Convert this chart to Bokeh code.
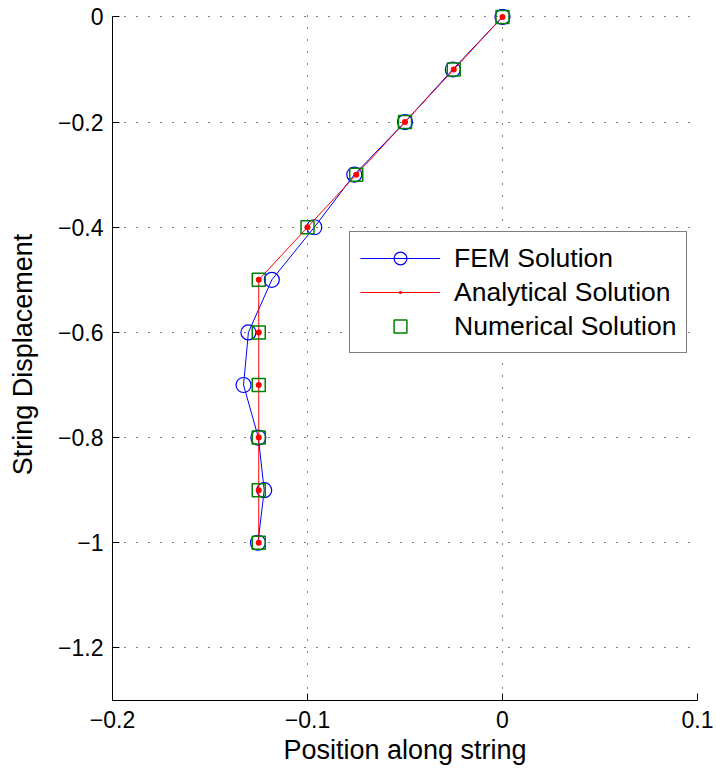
from bokeh.plotting import figure
from bokeh.models import Range1d, FixedTicker, Legend, LegendItem
from bokeh.embed import file_html
from bokeh.resources import INLINE

# Data
disp = [0.0, -0.1, -0.2, -0.3, -0.4, -0.5, -0.6, -0.7, -0.8, -0.9, -1.0]
fem_pos = [0.0, -0.0255, -0.05, -0.076, -0.0965, -0.1183, -0.1303, -0.1328, -0.1252, -0.1222, -0.1254]
ana_pos = [0.0, -0.025, -0.05, -0.075, -0.1, -0.125, -0.125, -0.125, -0.125, -0.125, -0.125]
num_pos = [0.0, -0.025, -0.05, -0.075, -0.1, -0.125, -0.125, -0.125, -0.125, -0.125, -0.125]

x_ticks = [-0.2, -0.1, 0.0, 0.1]
x_tick_labels = ["\u22120.2", "\u22120.1", "0", "0.1"]
y_ticks = [0.0, -0.2, -0.4, -0.6, -0.8, -1.0, -1.2]
y_tick_labels = ["0", "\u22120.2", "\u22120.4", "\u22120.6", "\u22120.8", "\u22121", "\u22121.2"]

FONT = "Liberation Sans"
Y_MIN, Y_MAX = -1.3, 0.0
X_MIN, X_MAX = -0.2, 0.1

# small headroom above y=0 so the markers at the origin are not clipped
p = figure(width=716, height=776, output_backend="svg", toolbar_location=None,
           x_range=Range1d(X_MIN, X_MAX), y_range=Range1d(Y_MIN, 0.016),
           min_border_left=112, min_border_right=19, min_border_top=8, min_border_bottom=76)
p.outline_line_color = None
p.background_fill_color = "white"

for ax, ticks, labels in ((p.xaxis[0], x_ticks, x_tick_labels), (p.yaxis[0], y_ticks, y_tick_labels)):
    ax.ticker = FixedTicker(ticks=ticks)
    ax.major_label_overrides = {t: l for t, l in zip(ticks, labels)}
    ax.minor_tick_line_color = None
    ax.major_tick_in = 7
    ax.major_tick_out = 0
    ax.axis_line_color = "black"
    ax.axis_line_width = 1
    ax.major_tick_line_color = "black"
    ax.major_label_text_font = FONT
    ax.major_label_text_font_size = "23px"
    ax.major_label_text_color = "black"
    ax.axis_label_text_font = FONT
    ax.axis_label_text_font_size = "27px"
    ax.axis_label_text_font_style = "normal"
    ax.axis_label_text_color = "black"

p.yaxis.bounds = (Y_MIN, Y_MAX)
p.xaxis.axis_label = "Position along string"
p.yaxis.axis_label = "String Displacement"
p.xaxis.major_label_standoff = 10
p.xaxis.axis_label_standoff = 4
p.yaxis.major_label_standoff = 9
p.yaxis.axis_label_standoff = 17

p.xgrid.ticker = FixedTicker(ticks=x_ticks)
p.ygrid.ticker = FixedTicker(ticks=y_ticks)
p.xgrid.bounds = (Y_MIN, Y_MAX)
for g in (p.xgrid[0], p.ygrid[0]):
    g.grid_line_color = "black"
    g.grid_line_dash = "1 11"
    g.grid_line_width = 1
    g.grid_line_alpha = 1.0

fem_line = p.line(fem_pos, disp, line_color="#0000ff", line_width=1)
fem_mark = p.scatter(fem_pos, disp, marker="circle", size=15, fill_color=None,
                     line_color="#0000ff", line_width=1.2)
ana_line = p.line(ana_pos, disp, line_color="#ff0000", line_width=1)
ana_mark = p.scatter(ana_pos, disp, marker="dot", size=24, fill_color="#ff0000",
                     line_color="#ff0000")
num_mark = p.scatter(num_pos, disp, marker="square", size=13, fill_color=None,
                     line_color="#008000", line_width=1.5)

legend = Legend(items=[
    LegendItem(label="FEM Solution", renderers=[fem_line, fem_mark]),
    LegendItem(label="Analytical Solution", renderers=[ana_line, ana_mark]),
    LegendItem(label="Numerical Solution", renderers=[num_mark]),
], location=(237, 347))
legend.label_text_font = FONT
legend.label_text_font_size = "26.5px"
legend.label_text_color = "black"
legend.glyph_width = 80
legend.glyph_height = 32
legend.label_height = 32
legend.label_standoff = 14
legend.spacing = 2
legend.padding = 10
legend.margin = 0
legend.border_line_color = "black"
legend.border_line_width = 1.5
legend.background_fill_alpha = 1.0
p.add_layout(legend, "center")

open("out.html", "w").write(file_html(p, INLINE))
